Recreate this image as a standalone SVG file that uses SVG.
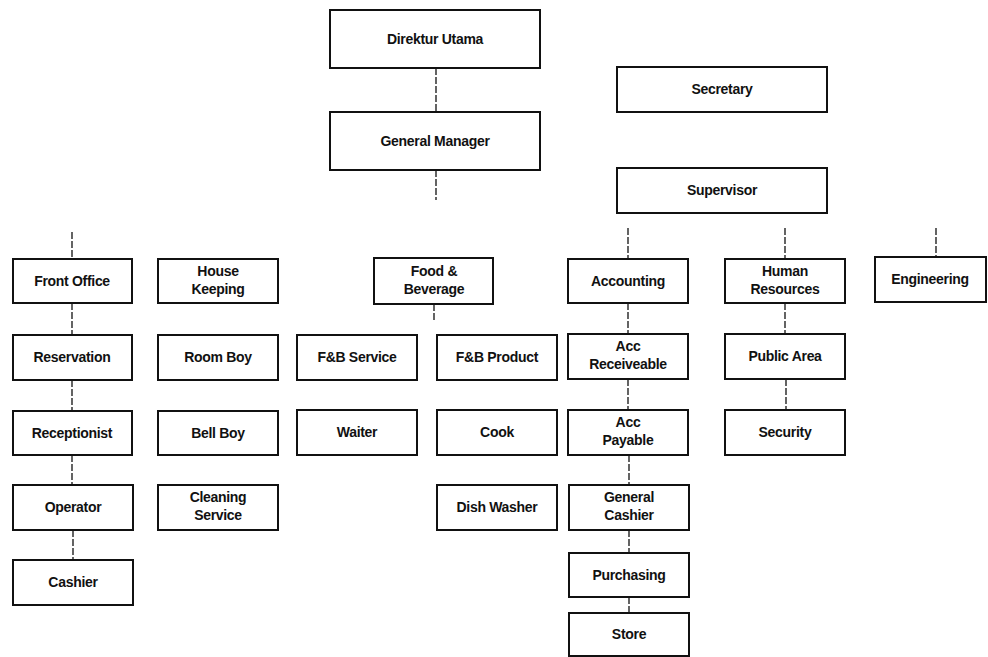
<svg xmlns="http://www.w3.org/2000/svg" width="988" height="657" viewBox="0 0 988 657">
<style>
.box rect{fill:#fff;stroke:#111;stroke-width:2}
.box text{font-family:"Liberation Sans",Arial,sans-serif;font-size:14px;font-weight:bold;fill:#111;text-anchor:middle;letter-spacing:-0.3px}
#connectors line{stroke:#111;stroke-width:1.3;stroke-dasharray:7 2}
</style>
<rect width="988" height="657" fill="#fff"/>
<g id="connectors">
<line x1="436" y1="68" x2="436" y2="112"/>
<line x1="436" y1="170" x2="436" y2="200"/>
<line x1="434" y1="304" x2="434" y2="320"/>
<line x1="628" y1="228" x2="628" y2="259"/>
<line x1="785" y1="228" x2="785" y2="259"/>
<line x1="936" y1="228" x2="936" y2="257"/>
<line x1="628" y1="303" x2="628" y2="334"/>
<line x1="628" y1="379" x2="628" y2="410"/>
<line x1="629" y1="455" x2="629" y2="485"/>
<line x1="629" y1="530" x2="629" y2="553"/>
<line x1="629" y1="597" x2="629" y2="613"/>
<line x1="785" y1="303" x2="785" y2="334"/>
<line x1="786" y1="379" x2="786" y2="410"/>
<line x1="72" y1="232" x2="72" y2="259"/>
<line x1="72" y1="303" x2="72" y2="335"/>
<line x1="72" y1="380" x2="72" y2="411"/>
<line x1="72" y1="455" x2="72" y2="485"/>
<line x1="73" y1="530" x2="73" y2="560"/>
</g>
<g id="direktur" class="box"><rect x="330" y="10" width="210" height="58"/><text x="435" y="44">Direktur Utama</text></g>
<g id="gm" class="box"><rect x="330" y="112" width="210" height="58"/><text x="435" y="146">General Manager</text></g>
<g id="secretary" class="box"><rect x="617" y="67" width="210" height="45"/><text x="722" y="94">Secretary</text></g>
<g id="supervisor" class="box"><rect x="617" y="168" width="210" height="45"/><text x="722" y="195">Supervisor</text></g>
<g id="frontoffice" class="box"><rect x="13" y="259" width="119" height="44"/><text x="72" y="286">Front Office</text></g>
<g id="reservation" class="box"><rect x="13" y="335" width="119" height="45"/><text x="72" y="362">Reservation</text></g>
<g id="receptionist" class="box"><rect x="13" y="411" width="119" height="44"/><text x="72" y="438">Receptionist</text></g>
<g id="operator" class="box"><rect x="13" y="485" width="120" height="45"/><text x="73" y="512">Operator</text></g>
<g id="cashier" class="box"><rect x="13" y="560" width="120" height="45"/><text x="73" y="587">Cashier</text></g>
<g id="housekeeping" class="box"><rect x="158" y="259" width="120" height="44"/><text x="218" y="276">House</text><text x="218" y="294">Keeping</text></g>
<g id="roomboy" class="box"><rect x="158" y="335" width="120" height="45"/><text x="218" y="362">Room Boy</text></g>
<g id="bellboy" class="box"><rect x="158" y="411" width="120" height="44"/><text x="218" y="438">Bell Boy</text></g>
<g id="cleaning" class="box"><rect x="158" y="485" width="120" height="45"/><text x="218" y="502">Cleaning</text><text x="218" y="520">Service</text></g>
<g id="fnb" class="box"><rect x="374" y="258" width="119" height="46"/><text x="434" y="276">Food &amp;</text><text x="434" y="294">Beverage</text></g>
<g id="fnbservice" class="box"><rect x="297" y="335" width="120" height="45"/><text x="357" y="362">F&amp;B Service</text></g>
<g id="fnbproduct" class="box"><rect x="437" y="335" width="120" height="45"/><text x="497" y="362">F&amp;B Product</text></g>
<g id="waiter" class="box"><rect x="297" y="410" width="120" height="45"/><text x="357" y="437">Waiter</text></g>
<g id="cook" class="box"><rect x="437" y="410" width="120" height="45"/><text x="497" y="437">Cook</text></g>
<g id="dishwasher" class="box"><rect x="437" y="485" width="120" height="45"/><text x="497" y="512">Dish Washer</text></g>
<g id="accounting" class="box"><rect x="568" y="259" width="120" height="44"/><text x="628" y="286">Accounting</text></g>
<g id="accrec" class="box"><rect x="568" y="334" width="120" height="45"/><text x="628" y="351">Acc</text><text x="628" y="369">Receiveable</text></g>
<g id="accpay" class="box"><rect x="568" y="410" width="120" height="45"/><text x="628" y="427">Acc</text><text x="628" y="445">Payable</text></g>
<g id="gencashier" class="box"><rect x="569" y="485" width="120" height="45"/><text x="629" y="502">General</text><text x="629" y="520">Cashier</text></g>
<g id="purchasing" class="box"><rect x="569" y="553" width="120" height="44"/><text x="629" y="580">Purchasing</text></g>
<g id="store" class="box"><rect x="569" y="613" width="120" height="43"/><text x="629" y="639">Store</text></g>
<g id="hr" class="box"><rect x="725" y="259" width="120" height="44"/><text x="785" y="276">Human</text><text x="785" y="294">Resources</text></g>
<g id="publicarea" class="box"><rect x="725" y="334" width="120" height="45"/><text x="785" y="361">Public Area</text></g>
<g id="security" class="box"><rect x="725" y="410" width="120" height="45"/><text x="785" y="437">Security</text></g>
<g id="engineering" class="box"><rect x="875" y="257" width="111" height="45"/><text x="930" y="284">Engineering</text></g>
</svg>
